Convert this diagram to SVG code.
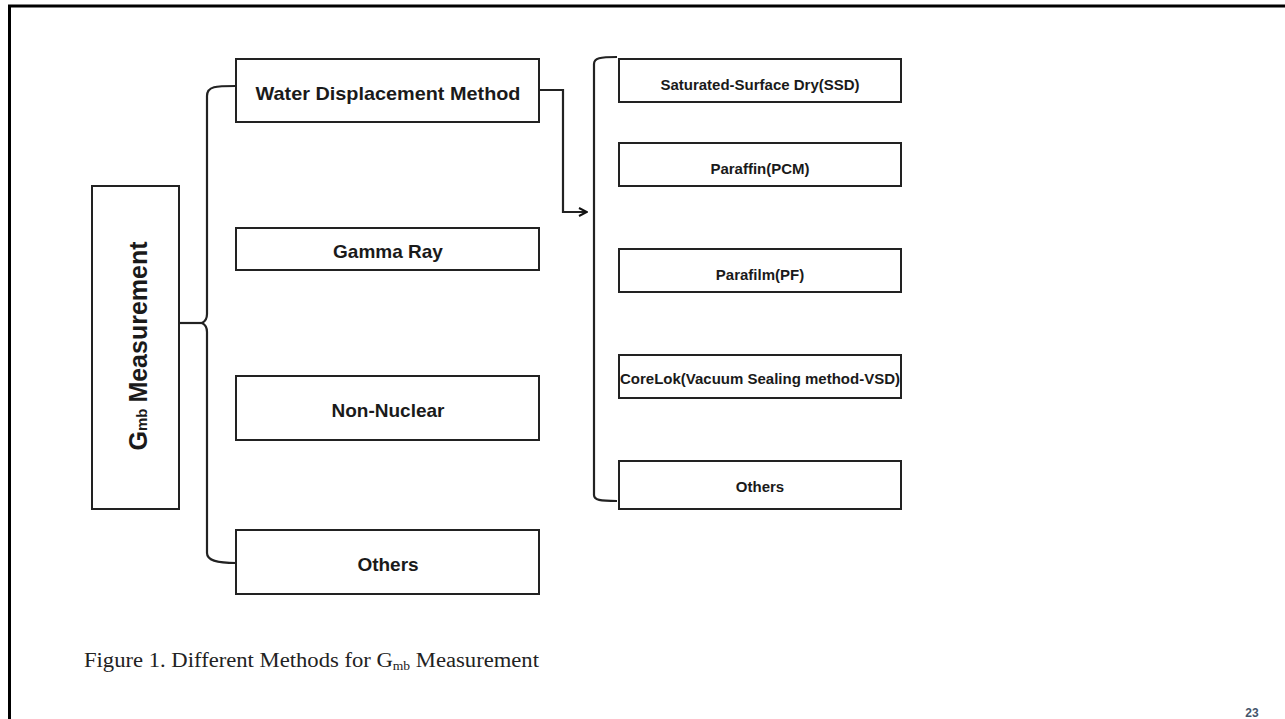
<svg xmlns="http://www.w3.org/2000/svg" width="1285" height="719" viewBox="0 0 1285 719">
<style>
.box{fill:#fff;stroke:#222;stroke-width:2}
.lbl{font-family:"Liberation Sans",Arial,sans-serif;font-weight:bold;fill:#1a1a1a;text-anchor:middle}
.big{font-size:19px}
.sm{font-size:15px}
.con{fill:none;stroke:#222;stroke-width:2.2}
</style>
<defs>
<marker id="arr" viewBox="0 0 10 10" refX="9" refY="5" markerWidth="10" markerHeight="10" markerUnits="userSpaceOnUse" orient="auto">
<path d="M1,1 L9,5 L1,9" fill="none" stroke="#111" stroke-width="2"/>
</marker>
</defs>
<rect width="1285" height="719" fill="#fff"/>
<g id="frame">
<line x1="8" y1="6" x2="1285" y2="6" stroke="#000" stroke-width="3"/>
<line x1="9.5" y1="5" x2="9.5" y2="719" stroke="#000" stroke-width="3"/>
</g>
<g id="connectors">
<path class="con" d="M178,323 H202"/>
<path class="con" d="M236,86 C216,86 207,86 207,96 V314 C207,320 204,322 202,323 C204,324 207,326 207,332 V553 C207,560 216,563 236,563" stroke-width="2"/>
<path class="con" d="M539,90 H563 V212 H587" marker-end="url(#arr)"/>
<path class="con" d="M617,57 C600,57 594,58 594,64 V495 C594,500 600,501 617,501"/>
</g>
<g id="gmb">
<rect class="box" x="92" y="186" width="87" height="323"/>
<text class="lbl" transform="translate(147,346) rotate(-90)" font-size="25"><tspan>G</tspan><tspan font-size="15">mb</tspan><tspan dx="6">Measurement</tspan></text>
</g>
<g id="water">
<rect class="box" x="236" y="59" width="303" height="63"/>
<text class="lbl big" x="388" y="100" textLength="265" lengthAdjust="spacingAndGlyphs">Water Displacement Method</text>
</g>
<g id="gamma">
<rect class="box" x="236" y="228" width="303" height="42"/>
<text class="lbl big" x="388" y="258">Gamma Ray</text>
</g>
<g id="nonnuclear">
<rect class="box" x="236" y="376" width="303" height="64"/>
<text class="lbl big" x="388" y="417">Non-Nuclear</text>
</g>
<g id="others1">
<rect class="box" x="236" y="530" width="303" height="64"/>
<text class="lbl big" x="388" y="571">Others</text>
</g>
<g id="ssd">
<rect class="box" x="619" y="59" width="282" height="43"/>
<text class="lbl sm" x="760" y="90">Saturated-Surface Dry(SSD)</text>
</g>
<g id="pcm">
<rect class="box" x="619" y="143" width="282" height="43"/>
<text class="lbl sm" x="760" y="174">Paraffin(PCM)</text>
</g>
<g id="pf">
<rect class="box" x="619" y="249" width="282" height="43"/>
<text class="lbl sm" x="760" y="280">Parafilm(PF)</text>
</g>
<g id="corelok">
<rect class="box" x="619" y="355" width="282" height="43"/>
<text class="lbl sm" x="760" y="384" textLength="280" lengthAdjust="spacingAndGlyphs">CoreLok(Vacuum Sealing method-VSD)</text>
</g>
<g id="others2">
<rect class="box" x="619" y="461" width="282" height="48"/>
<text class="lbl sm" x="760" y="492">Others</text>
</g>
<g id="caption">
<text x="84" y="667" font-family="'Liberation Serif','Times New Roman',serif" font-size="20" fill="#222" textLength="455" lengthAdjust="spacingAndGlyphs">Figure 1. Different Methods for G<tspan font-size="12" dy="3">mb</tspan><tspan dy="-3"> Measurement</tspan></text>
<text x="1252" y="717" font-family="'Liberation Sans',Arial,sans-serif" font-weight="bold" font-size="12" fill="#44546a" text-anchor="middle">23</text>
</g>
</svg>
